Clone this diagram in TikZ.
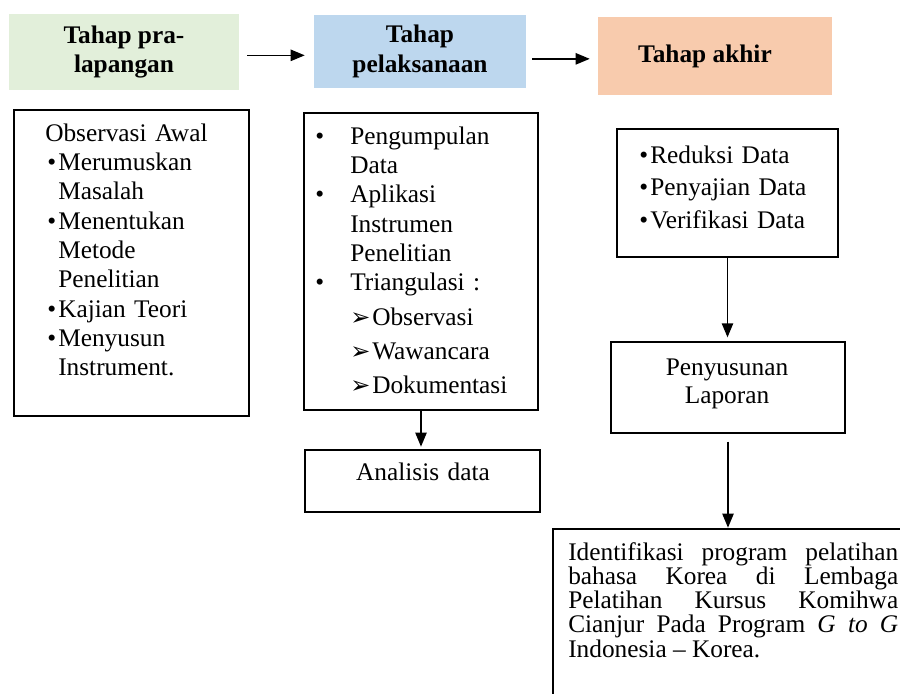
\documentclass[tikz,border=0pt]{standalone}
\usepackage{fontspec}
\setmainfont{Liberation Serif}
\newfontfamily\dingfont{DejaVu Sans}
\usetikzlibrary{arrows.meta}

\definecolor{preGreen}{RGB}{226,239,218}
\definecolor{runBlue}{RGB}{189,215,238}
\definecolor{endOrange}{RGB}{248,203,173}

\newcommand{\bltA}{\makebox[9.75pt][l]{\hspace{1.5pt}•}}
\newcommand{\bltB}{\makebox[26.25pt][l]{•}}
\newcommand{\arh}{\makebox[16.5pt][l]{\dingfont\fontsize{18}{18}\selectfont ➢}}

\tikzset{
  stage/.style={inner sep=0pt, align=center, font=\fontsize{19}{22}\selectfont\bfseries},
  box/.style={draw, line width=1pt, inner sep=0pt},
  txt/.style={inner sep=0pt, anchor=base west, text width=#1, align=left, font=\fontsize{19}{22}\selectfont},
  txt/.default=160pt,
  arr/.style={line width=1pt, -{Triangle[length=10.5pt,width=8.5pt]}}
}

\begin{document}
\begin{tikzpicture}[x=0.75pt, y=-0.75pt]
  \useasboundingbox (0,0) rectangle (900,693);

  % Stage headers
  \node[stage, fill=preGreen, minimum width=172.5pt, minimum height=57pt] (pre) at (124,52) {Tahap pra-\\lapangan};
  \node[stage, fill=runBlue, minimum width=159pt, minimum height=54.75pt] (run) at (420,51.5) {Tahap\\pelaksanaan};
  \node[stage, fill=endOrange, minimum width=175.5pt, minimum height=58.5pt] (end) at (715,56) {Tahap akhir\hspace*{15pt}};

  \draw[arr, shorten <=6pt, shorten >=6.75pt] ([yshift=-2.5pt]pre.east) -- ([yshift=-2.5pt]pre.east -| run.west);
  \draw[arr, shorten <=4.5pt, shorten >=6pt] ([yshift=-5.5pt]run.east) -- ([yshift=-5.5pt]run.east -| end.west);

  % Boxes
  \node[box, minimum width=176.25pt, minimum height=229.5pt] (prebox) at (131.5,263) {};
  \node[box, minimum width=175.5pt, minimum height=222.75pt] (runbox) at (421,261.5) {};
  \node[box, minimum width=176.25pt, minimum height=46.5pt] (analisis) at (422.5,481) {};
  \node[box, minimum width=165.75pt, minimum height=96pt] (endbox) at (727.5,193) {};
  \node[box, minimum width=175.5pt, minimum height=68.25pt] (laporan) at (728,387.5) {};
  \node[box, minimum width=275.25pt, minimum height=135.75pt] (hasil) at (736.5,619.5) {};

  % Texts
  \node[txt] (preTxt) at (45,141) {Observasi Awal\\
    \bltA Merumuskan\\ \hspace*{9.75pt}Masalah\\
    \bltA Menentukan\\ \hspace*{9.75pt}Metode\\ \hspace*{9.75pt}Penelitian\\
    \bltA Kajian Teori\\
    \bltA Menyusun\\ \hspace*{9.75pt}Instrument.};
  \node[txt] (runTxt) at (315,144) {\bltB Pengumpulan\\ \hspace*{26.25pt}Data\\
    \bltB Aplikasi\\ \hspace*{26.25pt}Instrumen\\ \hspace*{26.25pt}Penelitian\\
    \bltB Triangulasi :\\[3.8pt]
    \hspace*{26.25pt}\arh Observasi\\[3.8pt]
    \hspace*{26.25pt}\arh Wawancara\\[3.8pt]
    \hspace*{26.25pt}\arh Dokumentasi};
  \node[txt=120pt, anchor=base, align=center] (anaTxt) at (423,480) {Analisis data};
  \node[txt] (endTxt) at (637,163) {\bltA Reduksi Data\\[2.4pt]
    \bltA Penyajian Data\\[2.4pt]
    \bltA Verifikasi Data};
  \node[txt=140pt, anchor=base, align=center, font=\fontsize{19}{21}\selectfont] (lapTxt) at (727,375) {Penyusunan\\Laporan};
  \node[txt=247.5pt, align=justify, font=\fontsize{19}{18.2}\selectfont] (hasilTxt) at (568,560)
    {Identifikasi program pelatihan\linebreak bahasa Korea di Lembaga\linebreak Pelatihan Kursus Komihwa\linebreak Cianjur Pada Program \textit{G to G}\linebreak Indonesia -- Korea.};

  % Down arrows
  \draw[arr, shorten >=2pt] (runbox.south) -- (runbox.south |- analisis.north);
  \draw[arr, shorten >=3pt] (endbox.south) -- (endbox.south |- laporan.north);
  \draw[arr, shorten <=6pt, shorten >=0.5pt] (laporan.south) -- (laporan.south |- hasil.north);
\end{tikzpicture}
\end{document}
